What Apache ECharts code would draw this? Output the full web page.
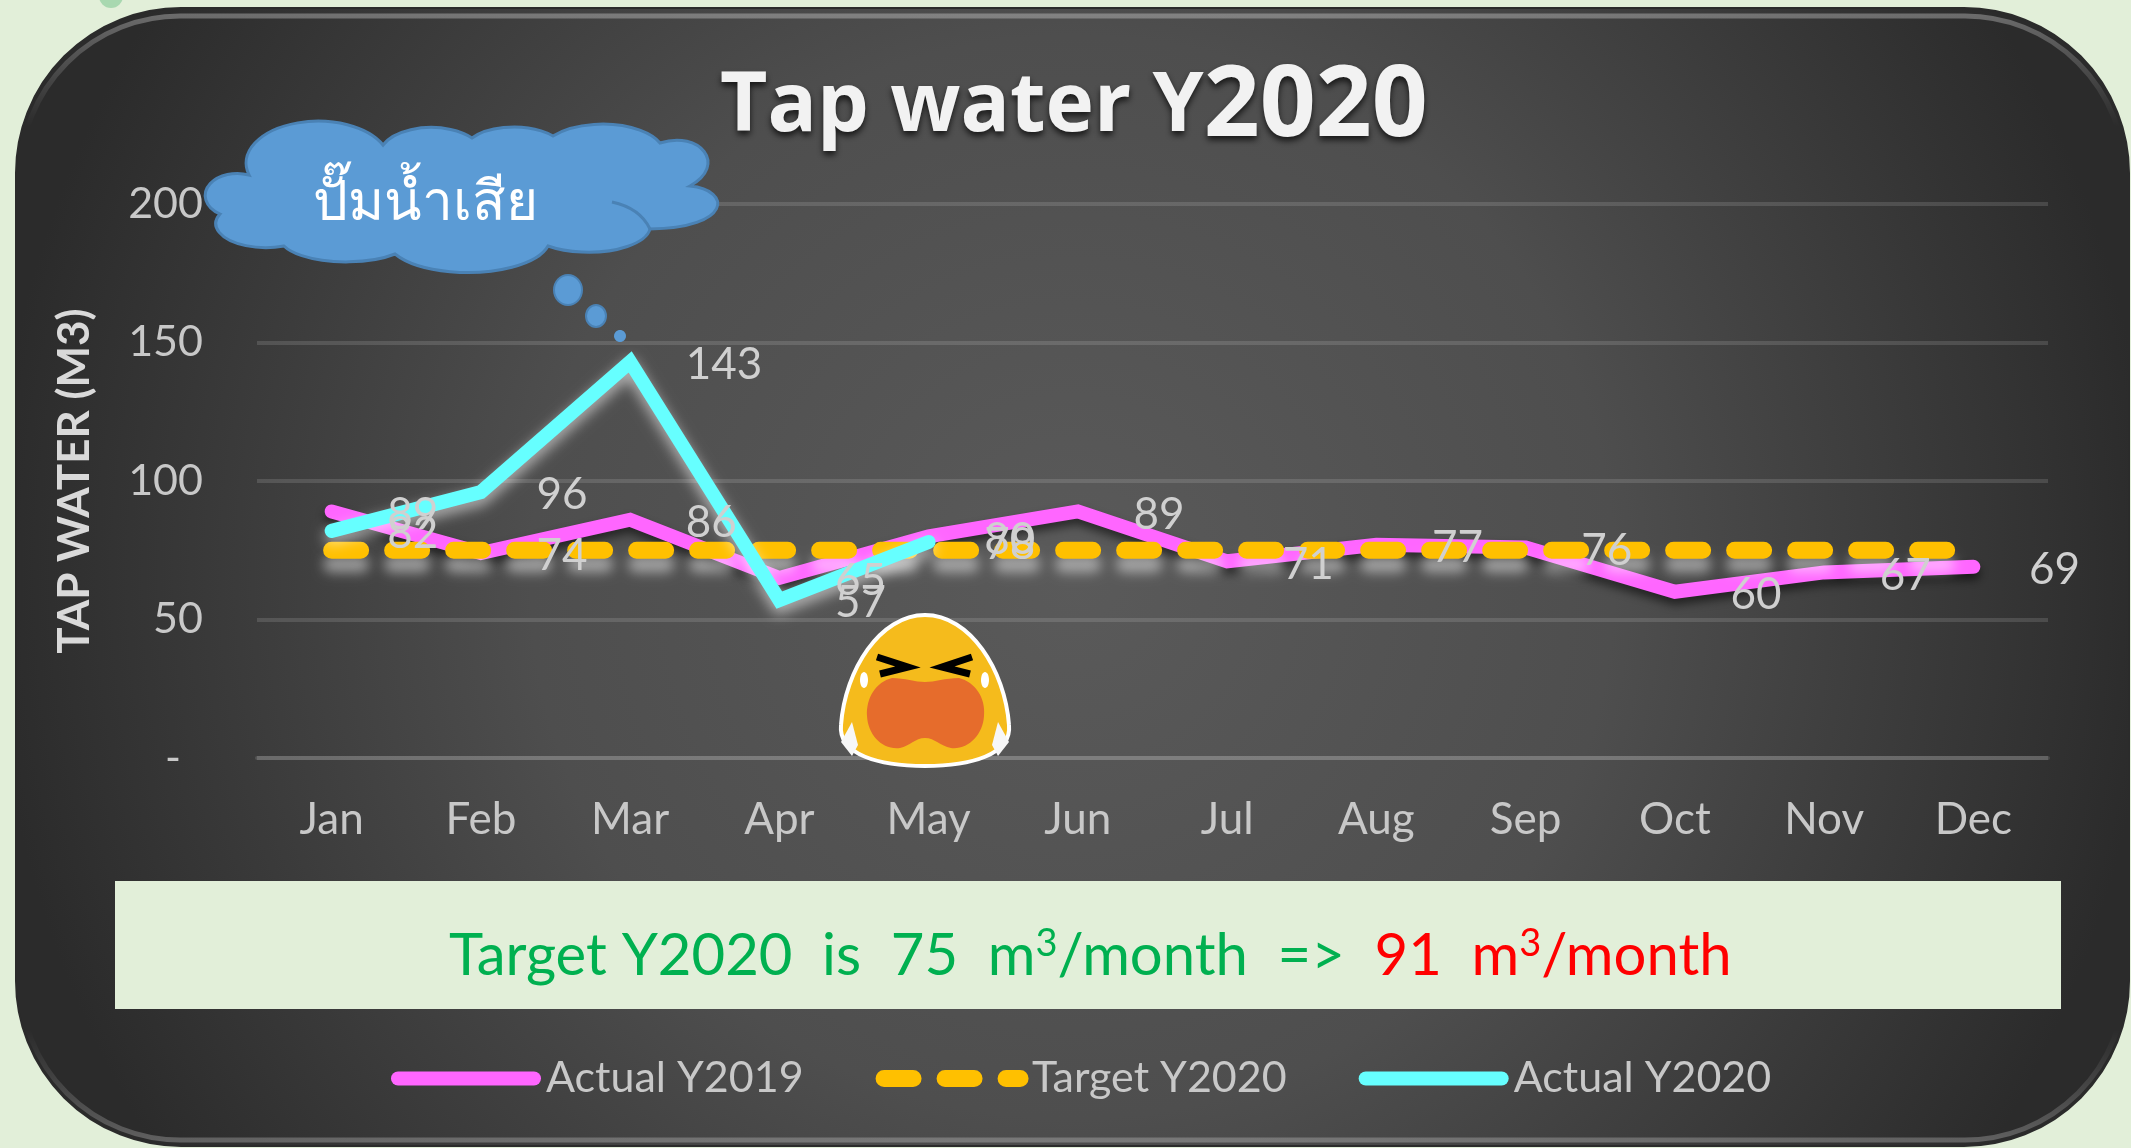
<!DOCTYPE html>
<html>
<head>
<meta charset="utf-8">
<title>Tap water Y2020</title>
<script src="https://cdn.jsdelivr.net/npm/echarts@6/dist/echarts.min.js"></script>
<style>
	html, body { margin: 0; padding: 0; background: #e2efd9; overflow: hidden; }
	#chart { width: 2131px; height: 1148px; }
</style>
</head>
<body>
<div id="chart"></div>
<script>
const months = ['Jan', 'Feb', 'Mar', 'Apr', 'May', 'Jun', 'Jul', 'Aug', 'Sep', 'Oct', 'Nov', 'Dec'];
const actual2019 = [89, 74, 86, 65, 80, 89, 71, 77, 76, 60, 67, 69];
const target2020 = [75, 75, 75, 75, 75, 75, 75, 75, 75, 75, 75, 75];
const actual2020 = [82, 96, 143, 57, 78];

const FONT = 'Lato';
const TEXT_COLOR = '#c8c8c8';
const GRID_COLOR = 'rgba(255,255,255,0.13)';

// labels sit above every line in the reference, so they get their own top series
const labelSeries = (name, data) => ({
	name,
	type: 'line',
	data,
	z: 10,
	symbol: 'circle',
	symbolSize: 1,
	showAllSymbol: true,
	lineStyle: { width: 0, opacity: 0 },
	itemStyle: { color: 'rgba(0,0,0,0)' },
	label: {
		show: true,
		position: 'right',
		distance: 53,
		offset: [2, 3],
		color: '#d0d0d0',
		fontFamily: FONT,
		fontWeight: 400,
		fontSize: 44,
	},
});

const chart = echarts.init(document.getElementById('chart'));

// cloud + crying face are decoration, not data
const cloudPath = 'M249 175 A72 42 0 0 1 383 145 A52 28 0 0 1 472 138 A50 24 0 0 1 553 136 A62 30 0 0 1 660 143 '
	+ 'C700 130 728 165 690 186 C732 190 732 228 650 229 A62 26 0 0 1 548 246 A82 34 0 0 1 395 254 '
	+ 'A66 24 0 0 1 284 246 A50 24 0 0 1 220 214 A32 22 0 0 1 249 175 Z';
const creasePath = 'M612 202 Q640 208 650 229';
const facePath = 'M925 615 C880 615 845 670 841 725 C838 755 880 766 925 766 C970 766 1012 755 1009 725 C1005 670 970 615 925 615 Z';
const mouthPath = 'M892 678 C905 678 915 682 925 682 C935 682 945 678 959 678 C975 682 986 698 984 716 C983 735 968 750 951 748 '
	+ 'C940 746 935 738 925 738 C915 738 910 746 900 748 C882 750 868 735 867 716 C866 698 876 682 892 678 Z';

// the graphic component only knows registered shapes, so svg paths go in this way
echarts.graphic.registerShape('cloudShape', echarts.graphic.extendPath(cloudPath));
echarts.graphic.registerShape('creaseShape', echarts.graphic.extendPath(creasePath));
echarts.graphic.registerShape('faceShape', echarts.graphic.extendPath(facePath));
echarts.graphic.registerShape('mouthShape', echarts.graphic.extendPath(mouthPath));

const graphicItems = [
	{ type: 'circle', z: -3, shape: { cx: 111, cy: -4, r: 12 }, style: { fill: '#a8d8b0' } },
	{
		type: 'rect', z: -2,
		shape: { x: 16, y: 8, width: 2113, height: 1138, r: 165 },
		style: {
			fill: new echarts.graphic.RadialGradient(0.5, 0.5, 0.95, [
				{ offset: 0, color: '#5a5a5a' },
				{ offset: 0.5, color: '#4e4e4e' },
				{ offset: 1, color: '#2b2b2b' },
			]),
			stroke: '#2b2b2b',
			lineWidth: 2,
		},
	},
	{
		type: 'rect', z: -1,
		shape: { x: 20, y: 16, width: 2105, height: 1124, r: 160 },
		style: {
			fill: 'none',
			lineWidth: 5,
			stroke: new echarts.graphic.LinearGradient(0, 0, 0, 1, [
				{ offset: 0, color: 'rgba(255,255,255,0.3)' },
				{ offset: 0.1, color: 'rgba(255,255,255,0)' },
				{ offset: 0.9, color: 'rgba(255,255,255,0)' },
				{ offset: 1, color: 'rgba(255,255,255,0.25)' },
			]),
		},
	},
	{ type: 'rect', z: 1, shape: { x: 115, y: 881, width: 1946, height: 128 }, style: { fill: '#e2efd9' } },
	{
		type: 'text', z: 2, x: 449, y: 956,
		style: {
			text: '{g|Target Y2020  is  75  m}{gs|3}{g|/month  =>  }{r|91  m}{rs|3}{r|/month}',
			verticalAlign: 'middle',
			rich: {
				g: { fill: '#00b050', fontFamily: FONT, fontSize: 58 },
				r: { fill: '#ff0000', fontFamily: FONT, fontSize: 58 },
				gs: { fill: '#00b050', fontFamily: FONT, fontSize: 38, verticalAlign: 'top', padding: [0, 0, 24, 0] },
				rs: { fill: '#ff0000', fontFamily: FONT, fontSize: 38, verticalAlign: 'top', padding: [0, 0, 24, 0] },
			},
		},
	},
	{ type: 'cloudShape', z: 5, style: { fill: '#5b9bd5', stroke: '#4a82b5', lineWidth: 3 } },
	{ type: 'creaseShape', z: 5, style: { fill: 'none', stroke: '#4a82b5', lineWidth: 3 } },
	{ type: 'ellipse', z: 5, shape: { cx: 568, cy: 290, rx: 14, ry: 15 }, style: { fill: '#5b9bd5', stroke: '#4a82b5', lineWidth: 2 } },
	{ type: 'ellipse', z: 5, shape: { cx: 596, cy: 316, rx: 10, ry: 11 }, style: { fill: '#5b9bd5', stroke: '#4a82b5', lineWidth: 2 } },
	{ type: 'ellipse', z: 5, shape: { cx: 620, cy: 336, rx: 6, ry: 6 }, style: { fill: '#5b9bd5' } },
	{
		type: 'text', z: 6, x: 425, y: 204,
		style: { text: 'ปั๊มน้ำเสีย', fill: '#fff', fontFamily: '"Noto Sans", "DejaVu Sans", sans-serif', fontSize: 55, align: 'center', verticalAlign: 'middle' },
	},
	{ type: 'faceShape', z: 7, style: { fill: '#f5bb1c', stroke: '#fff', lineWidth: 4 } },
	{ type: 'mouthShape', z: 8, style: { fill: '#e66c2c' } },
	{ type: 'polyline', z: 8, shape: { points: [[877, 657], [908, 667], [880, 674]] }, style: { fill: 'none', stroke: '#000', lineWidth: 7 } },
	{ type: 'polyline', z: 8, shape: { points: [[972, 657], [942, 667], [970, 674]] }, style: { fill: 'none', stroke: '#000', lineWidth: 7 } },
	{ type: 'ellipse', z: 8, shape: { cx: 864, cy: 680, rx: 4, ry: 8 }, style: { fill: '#fff' } },
	{ type: 'ellipse', z: 8, shape: { cx: 985, cy: 680, rx: 4, ry: 8 }, style: { fill: '#fff' } },
	{ type: 'polygon', z: 8, shape: { points: [[852, 722], [841, 742], [852, 756], [858, 745]] }, style: { fill: '#f7f7f7' } },
	{ type: 'polygon', z: 8, shape: { points: [[998, 722], [1009, 742], [998, 756], [992, 745]] }, style: { fill: '#f7f7f7' } },
];

chart.setOption({
	animation: false,
	backgroundColor: '#e2efd9',
	title: {
		left: 715,
		top: 54,
		text: '{a|Tap water Y}{b|2020}',
		textStyle: {
			rich: {
				a: { color: '#f2f2f2', fontFamily: 'Open Sans', fontWeight: 'bold', fontSize: 82, textShadowColor: 'rgba(0,0,0,0.7)', textShadowBlur: 6, textShadowOffsetY: 4 },
				b: { color: '#f2f2f2', fontFamily: 'Open Sans', fontWeight: 'bold', fontSize: 98, textShadowColor: 'rgba(0,0,0,0.7)', textShadowBlur: 6, textShadowOffsetY: 4 },
			},
		},
	},
	grid: { left: 257, right: 83, top: 204, bottom: 390 },
	legend: {
		data: ['Actual Y2019', 'Target Y2020', 'Actual Y2020'],
		left: 386,
		top: 1052,
		itemWidth: 136,
		itemHeight: 46,
		itemGap: 72,
		// keep the series line in the key, hide the marker the line series adds to it
		itemStyle: { opacity: 0 },
		lineStyle: { width: 'inherit' },
		textStyle: { color: TEXT_COLOR, fontFamily: FONT, fontWeight: 400, fontSize: 43, padding: [0, 0, 0, 7] },
	},
	xAxis: {
		type: 'category',
		data: months,
		axisLine: { lineStyle: { color: GRID_COLOR, width: 4 } },
		axisTick: { show: false },
		axisLabel: { color: TEXT_COLOR, fontFamily: FONT, fontWeight: 400, fontSize: 44, margin: 40 },
	},
	yAxis: {
		type: 'value',
		min: 0,
		max: 200,
		interval: 50,
		name: 'TAP WATER (M3)',
		nameLocation: 'middle',
		nameGap: 160,
		nameTextStyle: { color: '#d9d9d9', fontFamily: FONT, fontWeight: 'bold', fontSize: 44 },
		axisLine: { show: false },
		axisTick: { show: false },
		axisLabel: {
			color: TEXT_COLOR, fontFamily: FONT, fontWeight: 400, fontSize: 43, margin: 54,
			formatter: (v) => (v === 0 ? '-  ' : String(v)),
		},
		splitLine: { lineStyle: { color: GRID_COLOR, width: 4 } },
	},
	series: [
		{
			name: 'Actual Y2019', type: 'line', data: actual2019, symbol: 'none',
			lineStyle: { color: '#ff66ff', width: 14, cap: 'round', join: 'miter', shadowColor: 'rgba(0,0,0,0.55)', shadowBlur: 10, shadowOffsetY: 6 },
			itemStyle: { color: '#ff66ff' },
		},
		{
			name: 'Target Y2020', type: 'line', data: target2020, symbol: 'none',
			lineStyle: { color: '#ffc000', width: 17, type: [29, 32], cap: 'round', shadowColor: 'rgba(255,255,255,0.45)', shadowBlur: 12, shadowOffsetY: 14 },
			itemStyle: { color: '#ffc000' },
		},
		{
			name: 'Actual Y2020', type: 'line', data: actual2020, symbol: 'none',
			lineStyle: { color: '#66ffff', width: 14, cap: 'round', join: 'miter', shadowColor: 'rgba(255,255,255,0.6)', shadowBlur: 14, shadowOffsetY: 6 },
			itemStyle: { color: '#66ffff' },
		},
		labelSeries('labels 2019', actual2019),
		labelSeries('labels 2020', actual2020),
	],
	graphic: graphicItems,
});
</script>
</body>
</html>
